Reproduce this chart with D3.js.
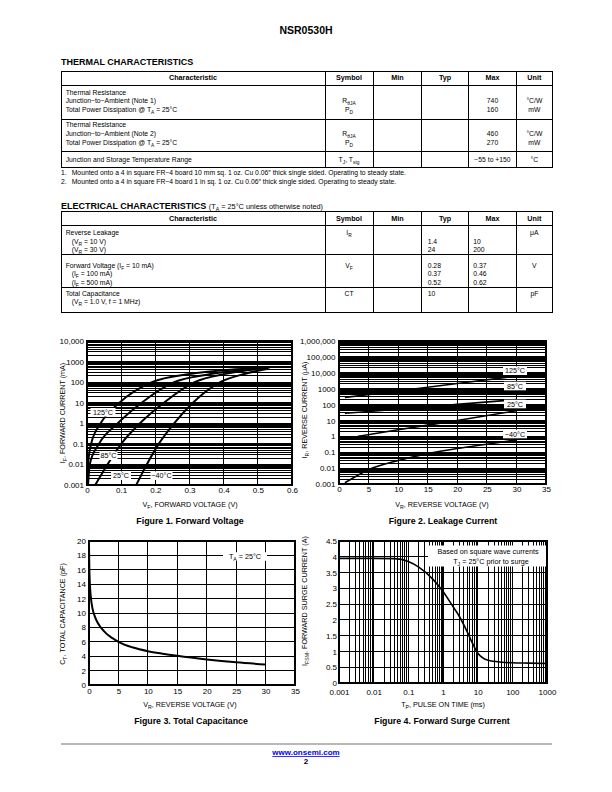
<!DOCTYPE html>
<html><head><meta charset="utf-8">
<script src="https://cdn.jsdelivr.net/npm/d3@7"></script>
<style>
html,body{margin:0;padding:0;background:#fff;}
svg{display:block;font-family:"Liberation Sans",Arial,Helvetica,sans-serif;}
</style></head><body>
<svg id="page" width="612" height="792"></svg>
<script>
// ================= DATA =================
// Figure 1: forward voltage (V) vs forward current (mA)
const fwdTemps = ["125°C", "85°C", "25°C", "−40°C"];
const fwd125 = [[0.002,0.001],[0.003,0.01],[0.012,0.1],[0.04,1],[0.095,10],[0.19,100],[0.3,250],[0.42,400],[0.53,500]];
const fwd85  = [[0.003,0.001],[0.008,0.01],[0.035,0.1],[0.09,1],[0.16,10],[0.255,100],[0.35,230],[0.45,380],[0.535,520]];
const fwd25  = [[0.024,0.001],[0.06,0.01],[0.1,0.1],[0.155,1],[0.225,10],[0.315,100],[0.41,260],[0.53,500]];
const fwdM40 = [[0.144,0.001],[0.175,0.01],[0.21,0.1],[0.255,1],[0.31,10],[0.39,100],[0.46,250],[0.53,450]];
const fig1XTicks = [0,0.1,0.2,0.3,0.4,0.5,0.6];
const fig1XLabels = ["0","0.1","0.2","0.3","0.4","0.5","0.6"];
const fig1YTicks = [0.001,0.01,0.1,1,10,100,1000,10000];
const fig1YLabels = ["0.001","0.01","0.1","1","10","100","1000","10,000"];

// Figure 2: reverse voltage (V) vs reverse current (uA)
const leakTemps = ["125°C", "85°C", "25°C", "−40°C"];
const leak125 = [[1,280],[10,720],[20,2100],[30,6200]];
const leak85  = [[1,28],[10,51],[20,102],[30,205]];
const leak25  = [[3.2,1],[10,2.6],[20,10],[30,41]];
const leakM40 = [[1,0.0012],[5,0.008],[10,0.03],[15,0.08],[20,0.17],[25,0.32],[30,0.6]];
const fig2XTicks = [0,5,10,15,20,25,30,35];
const fig2YTicks = [0.001,0.01,0.1,1,10,100,1000,10000,100000,1000000];
const fig2YLabels = ["0.001","0.01","0.1","1","10","100","1000","10,000","100,000","1,000,000"];

// Figure 3: reverse voltage (V) vs total capacitance (pF)
const capV = [0,0.05,0.15,0.3,0.6,1,1.5,2,3,4,5,7.5,10,12.5,15,20,25,30];
const capC = [19.3,16.5,14,12.3,10.6,9.5,8.6,8.0,7.1,6.5,6.0,5.2,4.7,4.35,4.05,3.55,3.15,2.85];
const fig3XTicks = [0,5,10,15,20,25,30,35];
const fig3YTicks = [0,2,4,6,8,10,12,14,16,18,20];

// Figure 4: pulse on time (ms) vs forward surge current (A)
const surgeT = [0.001,0.01,0.04,0.1,0.2,0.5,1,2,3,5,7,10,20,50,100,300,1000];
const surgeI = [3.95,3.95,3.94,3.85,3.67,3.3,2.9,2.4,2.1,1.62,1.27,0.95,0.72,0.66,0.64,0.63,0.62];
const fig4XTicks = [0.001,0.01,0.1,1,10,100,1000];
const fig4XLabels = ["0.001","0.01","0.1","1","10","100","1000"];
const fig4YTicks = [0,0.5,1,1.5,2,2.5,3,3.5,4,4.5];
const fig4YLabels = ["0","0.5","1","1.5","2","2.5","3","3.5","4","4.5"];

// Tables
const tableHeader = ["Characteristic","Symbol","Min","Typ","Max","Unit"];
const thermalRows = [
  {char:["Thermal Resistance","Junction−to−Ambient (Note 1)","Total Power Dissipation @ T_{A} = 25°C"], sym:["","R_{θJA}","P_{D}"], typ:[], max:["","740","160"], unit:["","°C/W","mW"]},
  {char:["Thermal Resistance","Junction−to−Ambient (Note 2)","Total Power Dissipation @ T_{A} = 25°C"], sym:["","R_{θJA}","P_{D}"], typ:[], max:["","460","270"], unit:["","°C/W","mW"]},
  {char:["Junction and Storage Temperature Range"], sym:["T_{J}, T_{stg}"], typ:[], max:["−55 to +150"], unit:["°C"]}
];
const thermalNotes = [
  ["1.","Mounted onto a 4 in square FR−4 board 10 mm sq. 1 oz. Cu 0.06″ thick single sided. Operating to steady state."],
  ["2.","Mounted onto a 4 in square FR−4 board 1 in sq. 1 oz. Cu 0.06″ thick single sided. Operating to steady state."]
];
const elecRows = [
  {char:["Reverse Leakage","(V_{R} = 10 V)","(V_{R} = 30 V)"], sym:["I_{R}"], typ:["","1.4","24"], max:["","10","200"], unit:["μA"]},
  {char:["Forward Voltage (I_{F} = 10 mA)","(I_{F} = 100 mA)","(I_{F} = 500 mA)"], sym:["V_{F}"], typ:["0.28","0.37","0.52"], max:["0.37","0.46","0.62"], unit:["V"]},
  {char:["Total Capacitance","(V_{R} = 1.0 V, f = 1 MHz)"], sym:["CT"], typ:["10"], max:[], unit:["pF"]}
];

// ================= HELPERS =================
const svg = d3.select("#page");
function rich(t, s, fs) {
  const parts = s.split(/(_\{[^}]*\})/).filter(p => p.length);
  let down = false;
  parts.forEach(p => {
    if (p.startsWith("_{")) {
      t.append("tspan").attr("dy", fs*0.3).attr("font-size", fs*0.72).text(p.slice(2,-1));
      down = true;
    } else {
      const ts = t.append("tspan").text(p);
      if (down) { ts.attr("dy", -fs*0.3); down = false; }
    }
  });
  return t;
}
function txt(parent, x, y, s, o = {}) {
  const fs = o.fs || 7;
  const t = parent.append("text").attr("x", x).attr("y", y).attr("font-size", fs)
    .attr("text-anchor", o.anchor || "start").attr("font-weight", o.bold ? "bold" : "normal")
    .attr("fill", o.fill || "#000");
  if (o.rot) t.attr("transform", `rotate(-90 ${x} ${y})`);
  rich(t, s, fs);
  return t;
}
function hline(x1, y1, x2, y2, w = 1, c = "#000") {
  svg.append("line").attr("x1", x1).attr("y1", y1).attr("x2", x2).attr("y2", y2)
    .attr("stroke", c).attr("stroke-width", w).attr("shape-rendering", "crispEdges");
}

// ================= PAGE HEADER =================
txt(svg, 306, 33.8, "NSR0530H", {fs: 10.5, bold: true, anchor: "middle"});

// ================= TABLES =================
const cols = [61, 325, 373, 421.7, 468.3, 516.7, 552];
function table(rowsY, headerY, rows, lineYs, opts) {
  const top = rowsY[0], bot = rowsY[rowsY.length - 1];
  svg.append("rect").attr("x", cols[0]).attr("y", top).attr("width", cols[6] - cols[0]).attr("height", bot - top)
    .attr("fill", "none").attr("stroke", "#000").attr("stroke-width", 1).attr("shape-rendering", "crispEdges");
  rowsY.slice(1, -1).forEach(yy => hline(cols[0], yy, cols[6], yy));
  cols.slice(1, -1).forEach(xx => hline(xx, top, xx, bot));
  tableHeader.forEach((h, i) => txt(svg, (cols[i] + cols[i+1]) / 2, headerY + 2.6, h, {fs: 7.2, bold: true, anchor: "middle"}));
  const fs = 6.8, bo = 2.4;
  rows.forEach((r, ri) => {
    const ly = lineYs[ri];
    r.char.forEach((s, k) => { if (s) txt(svg, cols[0] + 4.7 + (k > 0 ? opts.indent : 0), ly[k] + bo, s, {fs}); });
    r.sym.forEach((s, k) => { if (s) txt(svg, (cols[1] + cols[2]) / 2, ly[k] + bo, s, {fs, anchor: "middle"}); });
    r.typ.forEach((s, k) => { if (s) txt(svg, opts.numLeft ? cols[3] + 6 : (cols[3] + cols[4]) / 2, ly[k] + bo, s, {fs, anchor: opts.numLeft ? "start" : "middle"}); });
    r.max.forEach((s, k) => { if (s) txt(svg, opts.numLeft ? cols[4] + 5 : (cols[4] + cols[5]) / 2, ly[k] + bo, s, {fs, anchor: opts.numLeft ? "start" : "middle"}); });
    r.unit.forEach((s, k) => { if (s) txt(svg, (cols[5] + cols[6]) / 2, ly[k] + bo, s, {fs, anchor: "middle"}); });
  });
}

txt(svg, 61, 65, "THERMAL CHARACTERISTICS", {fs: 9, bold: true});
table([71, 85, 119, 151.7, 167.3], 77.6, thermalRows,
  [[92.3, 101, 110], [125, 134, 142.7], [159.8]], {indent: 0, numLeft: false});
thermalNotes.forEach((n, i) => {
  txt(svg, 61, 175.3 + i * 9, n[0], {fs: 6.8});
  txt(svg, 71.7, 175.3 + i * 9, n[1], {fs: 6.8});
});

{
  const t = svg.append("text").attr("x", 61).attr("y", 209.3).attr("fill", "#000");
  t.append("tspan").attr("font-weight", "bold").attr("font-size", 9).text("ELECTRICAL CHARACTERISTICS ");
  const t2 = t.append("tspan").attr("font-size", 7.3);
  rich(t2, "(T_{A} = 25°C unless otherwise noted)", 7.3);
}
table([211, 225.7, 254.3, 287.3, 312.3], 218.3, elecRows,
  [[232.7, 241.3, 249.3], [265.3, 274, 282.5], [293.3, 301.7]], {indent: 6, numLeft: true});

// ================= CHARTS =================
function plot(cfg) {
  const {L, R, T, B} = cfg.box;
  const x = cfg.x.range([L, R]);
  const y = cfg.y.range([B, T]);
  const g = svg.append("g");
  const grid = g.append("g").attr("stroke", "#000").attr("shape-rendering", "crispEdges");
  grid.selectAll("line.gx").data(cfg.xGrid).join("line").attr("class", "gx")
    .attr("x1", d => x(d)).attr("x2", d => x(d)).attr("y1", T).attr("y2", B)
    .attr("stroke-width", d => (cfg.xBold && cfg.xBold.includes(d)) ? 1.6 : (cfg.gxW || 1));
  grid.selectAll("line.gy").data(cfg.yGrid).join("line").attr("class", "gy")
    .attr("y1", d => y(d)).attr("y2", d => y(d)).attr("x1", L).attr("x2", R)
    .attr("stroke-width", cfg.gyW || 1);
  g.append("rect").attr("x", L).attr("y", T).attr("width", R - L).attr("height", B - T)
    .attr("fill", "none").attr("stroke", "#000").attr("stroke-width", 1.3).attr("shape-rendering", "crispEdges");
  // axes
  const ax = d3.axisBottom(x).tickValues(cfg.xTicks).tickFormat((d, i) => cfg.xLabels[i]).tickSize(0).tickPadding(cfg.xPad);
  const axg = g.append("g").attr("transform", `translate(0,${B})`).call(ax);
  axg.select(".domain").remove();
  axg.selectAll("text").attr("font-size", 8).attr("fill", "#000");
  const ay = d3.axisLeft(y).tickValues(cfg.yTicks).tickFormat((d, i) => cfg.yLabels[i]).tickSize(0).tickPadding(cfg.yPad);
  const ayg = g.append("g").attr("transform", `translate(${L},0)`).call(ay);
  ayg.select(".domain").remove();
  ayg.selectAll("text").attr("font-size", 8).attr("fill", "#000");
  axg.attr("font-family", null); ayg.attr("font-family", null);
  // titles
  txt(g, cfg.xTitle[1], cfg.xTitle[2], cfg.xTitle[0], {fs: 7.2, anchor: "middle"});
  txt(g, cfg.yTitle[1], cfg.yTitle[2], cfg.yTitle[0], {fs: 7.2, anchor: "middle", rot: true});
  txt(g, cfg.caption[1], cfg.caption[2], cfg.caption[0], {fs: 8.8, bold: true, anchor: "middle"});
  return {x, y, g};
}
function minorLog(lo, hi) {
  const a = [];
  for (let e = lo; e < hi; e++) for (let m = 1; m <= 9; m++) a.push(m * Math.pow(10, e));
  a.push(Math.pow(10, hi));
  return a;
}
function labelBox(g, cx, cy, w, s, fs = 7.2) {
  g.append("rect").attr("x", cx - w / 2).attr("y", cy - 4.3).attr("width", w).attr("height", 8.6).attr("fill", "#fff");
  txt(g, cx, cy + 2.6, s, {fs, anchor: "middle"});
}

// ---- Figure 1 ----
{
  const p = plot({
    box: {L: 87, R: 292, T: 341, B: 485},
    x: d3.scaleLinear().domain([0, 0.6]),
    y: d3.scaleLog().domain([0.001, 10000]),
    xGrid: [0.1, 0.2, 0.3, 0.4, 0.5], yGrid: minorLog(-3, 4), gxW: 1.2,
    xTicks: fig1XTicks, xLabels: fig1XLabels, yTicks: fig1YTicks, yLabels: fig1YLabels,
    xPad: 2, yPad: 3,
    xTitle: ["V_{F}, FORWARD VOLTAGE (V)", 190, 507],
    yTitle: ["I_{F}, FORWARD CURRENT (mA)", 64.5, 413],
    caption: ["Figure 1. Forward Voltage", 190, 524]
  });
  const line = d3.line().x(d => p.x(d[0])).y(d => p.y(d[1])).curve(d3.curveMonotoneX);
  [fwd125, fwd85, fwd25, fwdM40].forEach(s => {
    p.g.append("path").attr("d", line(s)).attr("fill", "none").attr("stroke", "#000").attr("stroke-width", 2);
  });
  labelBox(p.g, 103, 412.3, 25, fwdTemps[0]);
  labelBox(p.g, 108.5, 455.7, 18, fwdTemps[1]);
  labelBox(p.g, 121, 475.7, 20, fwdTemps[2]);
  labelBox(p.g, 161.5, 475.7, 22, fwdTemps[3]);
}

// ---- Figure 2 ----
{
  const p = plot({
    box: {L: 339, R: 546, T: 341, B: 484},
    x: d3.scaleLinear().domain([0, 35]),
    y: d3.scaleLog().domain([0.001, 1000000]),
    xGrid: [5, 10, 15, 20, 25, 30], yGrid: minorLog(-3, 6), gxW: 1.2,
    xTicks: fig2XTicks, xLabels: fig2XTicks.map(String), yTicks: fig2YTicks, yLabels: fig2YLabels,
    xPad: 2.5, yPad: 3.5,
    xTitle: ["V_{R}, REVERSE VOLTAGE (V)", 442, 507],
    yTitle: ["I_{R}, REVERSE CURRENT (μA)", 306.5, 410],
    caption: ["Figure 2. Leakage Current", 443, 524]
  });
  const line = d3.line().x(d => p.x(d[0])).y(d => p.y(d[1])).curve(d3.curveMonotoneX);
  [leak125, leak85, leak25, leakM40].forEach(s => {
    p.g.append("path").attr("d", line(s)).attr("fill", "none").attr("stroke", "#000").attr("stroke-width", 1.6);
  });
  labelBox(p.g, 515, 370.7, 24, leakTemps[0]);
  labelBox(p.g, 515, 386, 22, leakTemps[1]);
  labelBox(p.g, 515, 404, 22, leakTemps[2]);
  labelBox(p.g, 515, 434, 24, leakTemps[3]);
}

// ---- Figure 3 ----
{
  const p = plot({
    box: {L: 89, R: 295, T: 541, B: 685},
    x: d3.scaleLinear().domain([0, 35]),
    y: d3.scaleLinear().domain([0, 20]),
    xGrid: [5, 10, 15, 20, 25, 30], yGrid: fig3YTicks.slice(1, -1),
    xTicks: fig3XTicks, xLabels: fig3XTicks.map(String), yTicks: fig3YTicks, yLabels: fig3YTicks.map(String),
    xPad: 3.5, yPad: 3,
    xTitle: ["V_{R}, REVERSE VOLTAGE (V)", 190, 707],
    yTitle: ["C_{T}, TOTAL CAPACITANCE (pF)", 64.5, 614],
    caption: ["Figure 3. Total Capacitance", 191, 724]
  });
  const pts = capV.map((v, i) => [v, capC[i]]);
  const line = d3.line().x(d => p.x(d[0])).y(d => p.y(d[1])).curve(d3.curveMonotoneX);
  p.g.append("path").attr("d", line(pts)).attr("fill", "none").attr("stroke", "#000").attr("stroke-width", 2);
  labelBox(p.g, 245, 556.5, 44, "T_{A} = 25°C");
}

// ---- Figure 4 ----
{
  const p = plot({
    box: {L: 339, R: 547, T: 541, B: 683},
    x: d3.scaleLog().domain([0.001, 1000]),
    y: d3.scaleLinear().domain([0, 4.5]),
    xGrid: minorLog(-3, 3).slice(1, -1), xBold: [0.01, 0.1, 1, 10, 100], yGrid: fig4YTicks.slice(1, -1),
    xTicks: fig4XTicks, xLabels: fig4XLabels, yTicks: fig4YTicks, yLabels: fig4YLabels,
    xPad: 6, yPad: 2,
    xTitle: ["T_{P}, PULSE ON TIME (ms)", 443, 707],
    yTitle: ["I_{FSM}, FORWARD SURGE CURRENT (A)", 306.5, 601],
    caption: ["Figure 4. Forward Surge Current", 442, 724]
  });
  const pts = surgeT.map((t, i) => [t, surgeI[i]]);
  const line = d3.line().x(d => p.x(d[0])).y(d => p.y(d[1])).curve(d3.curveMonotoneX);
  p.g.append("path").attr("d", line(pts)).attr("fill", "none").attr("stroke", "#000").attr("stroke-width", 1.6);
  p.g.append("rect").attr("x", 428).attr("y", 545.5).attr("width", 118).attr("height", 21).attr("fill", "#fff");
  txt(p.g, 488, 554.2, "Based on square wave currents", {fs: 7.2, anchor: "middle"});
  txt(p.g, 491, 564.2, "T_{J} = 25°C prior to surge", {fs: 7.2, anchor: "middle"});
}

// ================= FOOTER =================
hline(61, 743.5, 552, 743.5, 2, "#b8b8b8");
{
  const t = txt(svg, 306, 755, "www.onsemi.com", {fs: 8, bold: true, anchor: "middle", fill: "#0000ee"});
  t.attr("text-decoration", "underline");
  txt(svg, 306, 764, "2", {fs: 8, bold: true, anchor: "middle"});
}
</script>
</body></html>
